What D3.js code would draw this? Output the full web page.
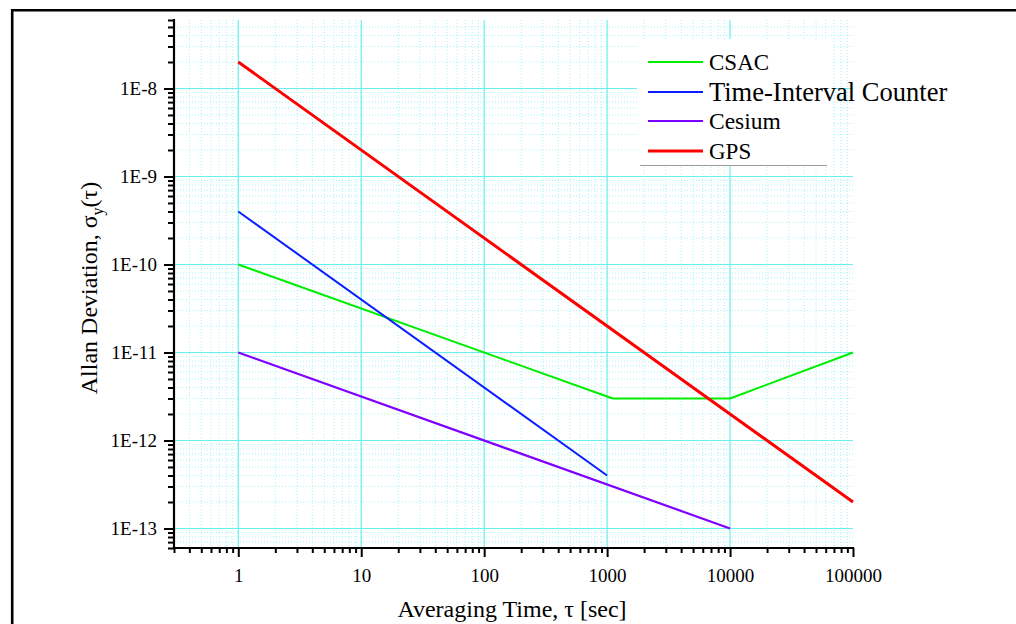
<!DOCTYPE html>
<html>
<head>
<meta charset="utf-8">
<script src="https://cdn.jsdelivr.net/npm/d3@7"></script>
<style>
  html, body { margin: 0; padding: 0; background: #fff; }
  svg { display: block; }
  svg text { font-family: "Liberation Serif", "DejaVu Serif", serif !important; fill: #000; }
</style>
</head>
<body>
<svg id="chart" width="1016" height="624"></svg>
<script>
// ---- data ----
const seriesNames = ["CSAC", "Time-Interval Counter", "Cesium", "GPS"];
const csacTau = [1, 1111, 10000, 100000];
const csacSigma = [1e-10, 3e-12, 3e-12, 1e-11];
const ticTau = [1, 1000];
const ticSigma = [4e-10, 4e-13];
const cesiumTau = [1, 10000];
const cesiumSigma = [1e-11, 1e-13];
const gpsTau = [1, 100000];
const gpsSigma = [2e-8, 2e-13];
const xTickValues = [1, 10, 100, 1000, 10000, 100000];
const xTickLabels = ["1", "10", "100", "1000", "10000", "100000"];
const yTickValues = [1e-8, 1e-9, 1e-10, 1e-11, 1e-12, 1e-13];
const yTickLabels = ["1E-8", "1E-9", "1E-10", "1E-11", "1E-12", "1E-13"];
const xDomain = [0.3, 100000];
const yDomain = [6e-14, 6e-8];

// ---- styles ----
const colors = ["#00ee00", "#0a1eff", "#8000ff", "#ff0000"];
const widths = [2, 2, 2.2, 3];
const legendFont = [23, 26.5, 23.5, 23];
const FONT = "Liberation Serif";

const svg = d3.select("#chart");
const L = 174, R = 853, T = 20, B = 548;

const x = d3.scaleLog().domain(xDomain).range([L, R]);
const y = d3.scaleLog().domain(yDomain).range([B, T]);

// minor tick values
const xMinor = [];
for (let e = -1; e <= 5; e++) for (let k = 2; k <= 9; k++) {
  const v = k * Math.pow(10, e);
  if (v >= xDomain[0] * 0.999 && v <= xDomain[1] * 1.001) xMinor.push(v);
}
const yMinor = [];
for (let e = -14; e <= -8; e++) for (let k = 2; k <= 9; k++) {
  const v = k * Math.pow(10, e);
  if (v >= yDomain[0] * 0.999 && v <= yDomain[1] * 1.001) yMinor.push(v);
}

// outer frame
svg.append("line").attr("x1", 12.2).attr("x2", 12.2).attr("y1", 9).attr("y2", 624)
  .attr("stroke", "#000").attr("stroke-width", 2.6);
svg.append("line").attr("x1", 11).attr("x2", 1016).attr("y1", 10.2).attr("y2", 10.2)
  .attr("stroke", "#000").attr("stroke-width", 2.6);

// minor grid (dotted)
const grid = svg.append("g");
grid.selectAll(".mgx").data(xMinor.filter(v => x(v) > L + 1 && x(v) < R - 1)).enter().append("line")
  .attr("x1", d => x(d)).attr("x2", d => x(d)).attr("y1", T).attr("y2", B)
  .attr("stroke", "#a6f4f4").attr("stroke-width", 1).attr("stroke-dasharray", "1,2");
grid.selectAll(".mgy").data(yMinor.filter(v => y(v) > T + 1 && y(v) < B - 1)).enter().append("line")
  .attr("x1", L).attr("x2", R).attr("y1", d => y(d)).attr("y2", d => y(d))
  .attr("stroke", "#a6f4f4").attr("stroke-width", 1).attr("stroke-dasharray", "1,2");
// major grid
grid.selectAll(".Mgx").data(xTickValues.filter(v => x(v) < R - 1)).enter().append("line")
  .attr("x1", d => x(d)).attr("x2", d => x(d)).attr("y1", T).attr("y2", B)
  .attr("stroke", "#66f0f0").attr("stroke-width", 1.2);
grid.selectAll(".Mgy").data(yTickValues).enter().append("line")
  .attr("x1", L).attr("x2", R).attr("y1", d => y(d)).attr("y2", d => y(d))
  .attr("stroke", "#66f0f0").attr("stroke-width", 1.2);

// series
const series = [
  { tau: csacTau, sigma: csacSigma },
  { tau: ticTau, sigma: ticSigma },
  { tau: cesiumTau, sigma: cesiumSigma },
  { tau: gpsTau, sigma: gpsSigma }
];
const line = d3.line().x(d => x(d[0])).y(d => y(d[1]));
series.forEach((s, i) => {
  svg.append("path")
    .datum(s.tau.map((t, j) => [t, s.sigma[j]]))
    .attr("d", line)
    .attr("fill", "none")
    .attr("stroke", colors[i])
    .attr("stroke-width", widths[i])
    .attr("stroke-linejoin", "round");
});

// axes
function styleAxis(g) {
  g.attr("font-family", FONT);
  g.select(".domain").remove();
  g.selectAll(".tick line").attr("stroke", "#000").attr("stroke-width", 2);
  g.selectAll(".tick text").attr("font-family", FONT).attr("font-size", 19).attr("fill", "#000");
}
const yMinorAxis = svg.append("g").attr("transform", `translate(${L},0)`)
  .call(d3.axisLeft(y).tickValues(yMinor).tickSize(6).tickFormat(""));
styleAxis(yMinorAxis);
const yMajorAxis = svg.append("g").attr("transform", `translate(${L},0)`)
  .call(d3.axisLeft(y).tickValues(yTickValues).tickSize(10).tickPadding(7)
    .tickFormat((d, i) => yTickLabels[i]));
styleAxis(yMajorAxis);

const xMinorAxis = svg.append("g").attr("transform", `translate(0,${B})`)
  .call(d3.axisBottom(x).tickValues(xMinor).tickSize(5).tickFormat(""));
styleAxis(xMinorAxis);
const xMajorAxis = svg.append("g").attr("transform", `translate(0,${B})`)
  .call(d3.axisBottom(x).tickValues(xTickValues).tickSize(9).tickPadding(12)
    .tickFormat((d, i) => xTickLabels[i]));
styleAxis(xMajorAxis);

// axis lines
svg.append("line").attr("x1", L).attr("x2", L).attr("y1", T - 1).attr("y2", B + 1)
  .attr("stroke", "#000").attr("stroke-width", 2.2);
svg.append("line").attr("x1", L - 1).attr("x2", R + 1).attr("y1", B).attr("y2", B)
  .attr("stroke", "#000").attr("stroke-width", 2.2);

// axis titles
svg.append("text")
  .attr("x", 512).attr("y", 617)
  .attr("text-anchor", "middle")
  .attr("font-family", FONT)
  .attr("font-size", 24)
  .text("Averaging Time, τ [sec]");

const yt = svg.append("text")
  .attr("transform", "translate(97,288) rotate(-90)")
  .attr("text-anchor", "middle")
  .attr("font-family", FONT)
  .attr("font-size", 24);
yt.append("tspan").text("Allan Deviation, σ");
yt.append("tspan").attr("font-size", 16).attr("dy", 6).text("y");
yt.append("tspan").attr("dy", -6).text("(τ)");

// legend
const lg = svg.append("g").attr("font-family", FONT);
lg.append("rect").attr("x", 637).attr("y", 39).attr("width", 195).attr("height", 126).attr("fill", "#fff");
lg.append("line").attr("x1", 640).attr("x2", 827).attr("y1", 165.5).attr("y2", 165.5)
  .attr("stroke", "#9a9a9a").attr("stroke-width", 1);
const legendY = [62, 92, 121, 151];
seriesNames.forEach((name, i) => {
  lg.append("line").attr("x1", 648).attr("x2", 703)
    .attr("y1", legendY[i]).attr("y2", legendY[i])
    .attr("stroke", colors[i]).attr("stroke-width", widths[i]);
  lg.append("text").attr("x", 709).attr("y", legendY[i] + legendFont[i] * 0.33)
    .attr("font-family", FONT)
    .attr("font-size", legendFont[i]).text(name);
});
</script>
</body>
</html>
